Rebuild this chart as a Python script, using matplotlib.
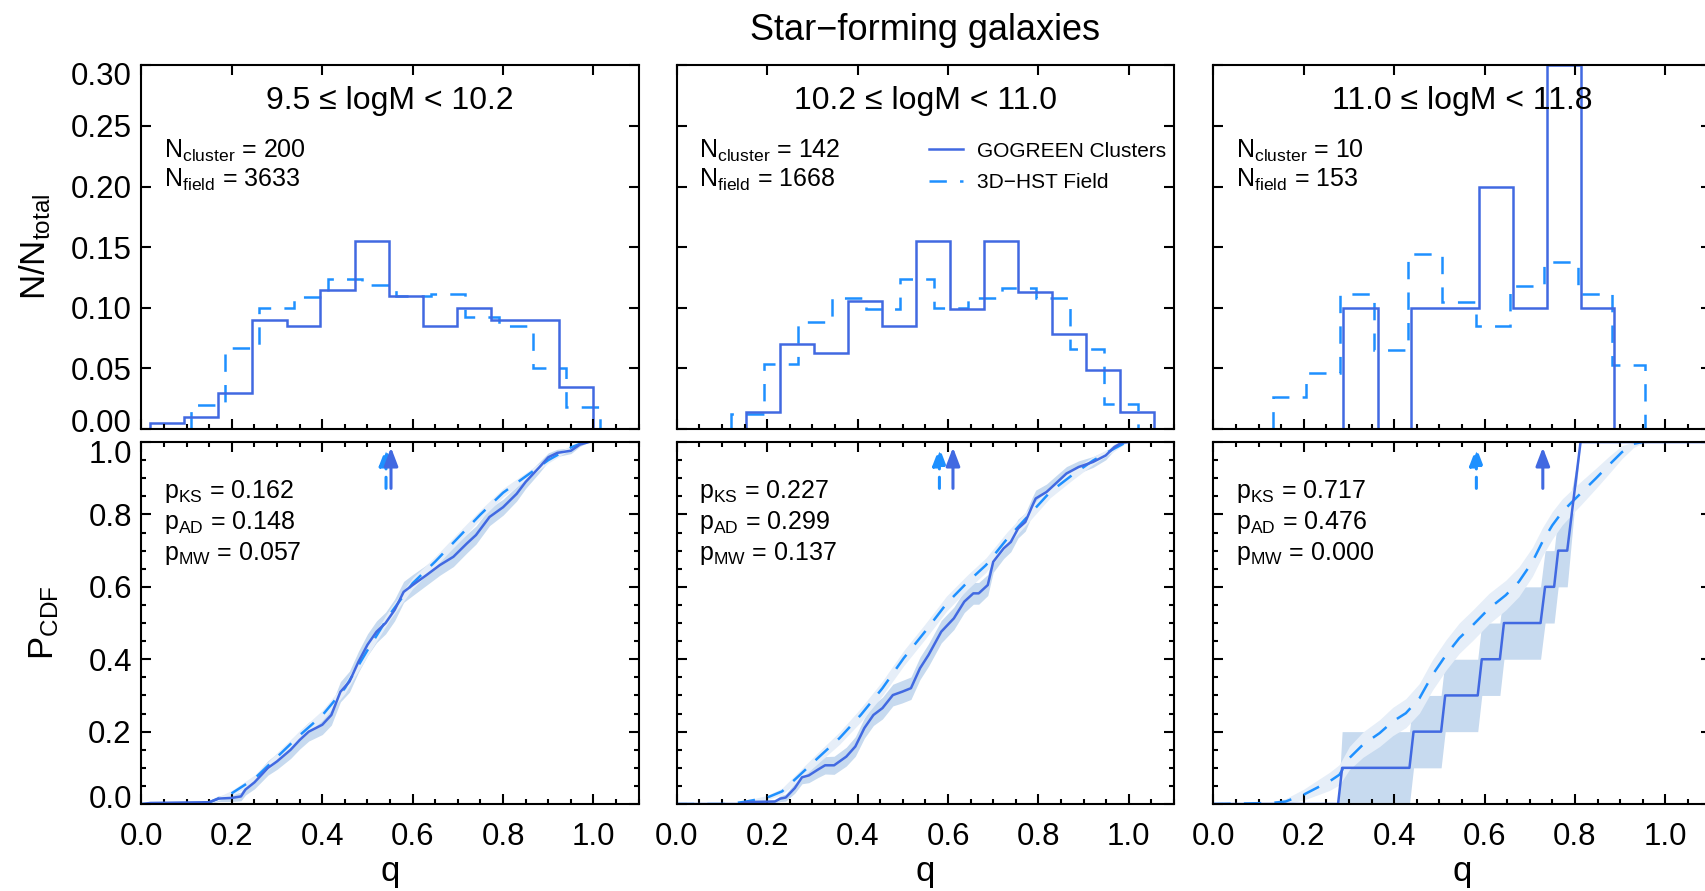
import matplotlib
matplotlib.use("Agg")
import matplotlib.pyplot as plt
import matplotlib.transforms as mtransforms
import numpy as np
from matplotlib.lines import Line2D
from matplotlib.ticker import MultipleLocator

plt.rcParams['font.family'] = ['Liberation Sans', 'DejaVu Sans']
plt.rcParams['mathtext.fontset'] = 'custom'
plt.rcParams['mathtext.rm'] = 'Liberation Sans'
plt.rcParams['mathtext.it'] = 'Liberation Sans:italic'
plt.rcParams['mathtext.bf'] = 'Liberation Sans:bold'
plt.rcParams['lines.scale_dashes'] = False

# ---------------- data ----------------
mass_bins = ["9.5 \u2264 logM < 10.2", "10.2 \u2264 logM < 11.0", "11.0 \u2264 logM < 11.8"]
n_cluster = [200, 142, 10]
n_field = [3633, 1668, 153]
p_ks = ["0.162", "0.227", "0.717"]
p_ad = ["0.148", "0.299", "0.476"]
p_mw = ["0.057", "0.137", "0.000"]
median_cluster = [0.552, 0.611, 0.729]
median_field = [0.541, 0.581, 0.582]

# histograms (bin edges in q, fraction per bin)
hist_cl_edges_1 = [0.018, 0.094, 0.170, 0.245, 0.321, 0.396, 0.472, 0.547, 0.622, 0.698, 0.773, 0.849, 0.924, 1.000]
hist_cl_vals_1 = [0.005, 0.010, 0.030, 0.090, 0.085, 0.115, 0.155, 0.110, 0.085, 0.100, 0.090, 0.090, 0.035]
hist_fd_edges_1 = [0.110, 0.184, 0.260, 0.337, 0.412, 0.488, 0.563, 0.640, 0.715, 0.790, 0.866, 0.940, 1.014]
hist_fd_vals_1 = [0.020, 0.067, 0.100, 0.109, 0.124, 0.119, 0.110, 0.111, 0.092, 0.085, 0.050, 0.018]

hist_cl_edges_2 = [0.153, 0.228, 0.304, 0.379, 0.454, 0.529, 0.604, 0.680, 0.755, 0.830, 0.905, 0.981, 1.056]
hist_cl_vals_2 = [0.014, 0.070, 0.063, 0.106, 0.085, 0.155, 0.099, 0.155, 0.113, 0.078, 0.049, 0.014]
hist_fd_edges_2 = [0.119, 0.194, 0.269, 0.344, 0.419, 0.494, 0.569, 0.644, 0.719, 0.795, 0.870, 0.945, 1.020]
hist_fd_vals_2 = [0.012, 0.054, 0.088, 0.108, 0.099, 0.124, 0.100, 0.108, 0.116, 0.108, 0.066, 0.021]

hist_cl_edges_3 = [0.288, 0.364, 0.4375, 0.513, 0.588, 0.663, 0.7375, 0.8125, 0.8875]
hist_cl_vals_3 = [0.10, 0.00, 0.10, 0.10, 0.20, 0.10, 0.30, 0.10]
hist_fd_edges_3 = [0.131, 0.206, 0.281, 0.356, 0.431, 0.506, 0.581, 0.656, 0.731, 0.806, 0.881, 0.956]
hist_fd_vals_3 = [0.026, 0.046, 0.111, 0.065, 0.144, 0.105, 0.085, 0.118, 0.138, 0.111, 0.053]

# cumulative distributions
cdf_cl_q_1 = [0.0, 0.02, 0.15, 0.17, 0.20, 0.22, 0.23, 0.25, 0.28, 0.30, 0.33, 0.35, 0.37, 0.40, 0.42,
              0.44, 0.46, 0.48, 0.50, 0.52, 0.54, 0.56, 0.58, 0.60, 0.63, 0.66, 0.69, 0.72, 0.74, 0.77,
              0.80, 0.83, 0.85, 0.88, 0.90, 0.92, 0.95, 0.97, 0.99]
cdf_cl_p_1 = [0.0, 0.003, 0.005, 0.015, 0.017, 0.021, 0.04, 0.06, 0.10, 0.118, 0.15, 0.177, 0.20, 0.219, 0.246,
              0.31, 0.338, 0.393, 0.44, 0.476, 0.50, 0.536, 0.586, 0.605, 0.632, 0.66, 0.683, 0.72, 0.743, 0.793,
              0.82, 0.857, 0.89, 0.93, 0.958, 0.97, 0.976, 0.993, 1.0]
cdf_cl_err_1 = [0.0, 0.003, 0.004, 0.008, 0.010, 0.012, 0.015, 0.018, 0.020, 0.022, 0.024, 0.025, 0.026, 0.027, 0.028,
                0.028, 0.029, 0.029, 0.030, 0.030, 0.030, 0.030, 0.029, 0.029, 0.028, 0.028, 0.027, 0.026, 0.025, 0.024,
                0.022, 0.020, 0.018, 0.015, 0.012, 0.010, 0.008, 0.005, 0.0]
cdf_fd_q_1 = [0.0, 0.10, 0.15, 0.20, 0.25, 0.30, 0.35, 0.40, 0.45, 0.50, 0.55, 0.60, 0.65, 0.70, 0.75,
              0.80, 0.85, 0.90, 0.95, 0.98]
cdf_fd_p_1 = [0.0, 0.0, 0.005, 0.03, 0.07, 0.13, 0.19, 0.245, 0.32, 0.425, 0.525, 0.61, 0.67, 0.735, 0.80,
              0.86, 0.905, 0.95, 0.985, 1.0]
cdf_fd_err_1 = [0.0, 0.0, 0.003, 0.008, 0.010, 0.012, 0.013, 0.014, 0.015, 0.015, 0.015, 0.015, 0.014, 0.014, 0.013,
                0.012, 0.010, 0.008, 0.005, 0.0]

cdf_cl_q_2 = [0.0, 0.138, 0.154, 0.217, 0.229, 0.241, 0.261, 0.277, 0.292, 0.312, 0.328, 0.348, 0.375, 0.395, 0.415,
              0.435, 0.455, 0.478, 0.498, 0.518, 0.538, 0.557, 0.585, 0.613, 0.636, 0.656, 0.668, 0.688, 0.70, 0.723,
              0.739, 0.755, 0.771, 0.787, 0.794, 0.818, 0.838, 0.862, 0.889, 0.921, 0.949, 0.968, 0.984, 1.0]
cdf_cl_p_2 = [0.0, 0.0, 0.0055, 0.007, 0.015, 0.018, 0.044, 0.074, 0.079, 0.095, 0.107, 0.107, 0.131, 0.159, 0.21,
              0.246, 0.265, 0.301, 0.31, 0.32, 0.375, 0.412, 0.476, 0.513, 0.559, 0.582, 0.582, 0.605, 0.669, 0.706,
              0.724, 0.761, 0.779, 0.825, 0.844, 0.862, 0.885, 0.913, 0.931, 0.945, 0.963, 0.986, 0.998, 1.0]
cdf_cl_err_2 = [0.0, 0.0, 0.003, 0.004, 0.008, 0.010, 0.014, 0.018, 0.020, 0.022, 0.024, 0.025, 0.026, 0.027, 0.028,
                0.029, 0.030, 0.030, 0.031, 0.031, 0.031, 0.031, 0.031, 0.031, 0.030, 0.030, 0.030, 0.029, 0.029, 0.028,
                0.027, 0.026, 0.025, 0.024, 0.023, 0.022, 0.021, 0.019, 0.017, 0.015, 0.012, 0.008, 0.004, 0.0]
cdf_fd_q_2 = [0.0, 0.115, 0.154, 0.20, 0.233, 0.265, 0.312, 0.36, 0.407, 0.455, 0.502, 0.549, 0.597, 0.644, 0.684,
              0.731, 0.779, 0.826, 0.874, 0.921, 0.968, 0.992]
cdf_fd_p_2 = [0.0, 0.0, 0.007, 0.018, 0.035, 0.072, 0.127, 0.182, 0.246, 0.32, 0.403, 0.476, 0.554, 0.614, 0.66,
              0.733, 0.798, 0.862, 0.908, 0.949, 0.982, 0.998]
cdf_fd_err_2 = [0.0, 0.0, 0.003, 0.006, 0.009, 0.012, 0.015, 0.017, 0.019, 0.020, 0.021, 0.021, 0.021, 0.020, 0.020,
                0.019, 0.018, 0.016, 0.014, 0.011, 0.007, 0.003]

cdf_cl_q_3 = [0.0, 0.276, 0.285, 0.434, 0.443, 0.504, 0.513, 0.585, 0.594, 0.634, 0.643, 0.724, 0.734, 0.754, 0.763,
              0.783, 0.8125, 1.1]
cdf_cl_p_3 = [0.0, 0.0, 0.1, 0.1, 0.2, 0.2, 0.3, 0.3, 0.4, 0.4, 0.5, 0.5, 0.6, 0.6, 0.7, 0.7, 1.0, 1.0]
cdf_cl_lo_3 = [0.0, 0.0, 0.0, 0.0, 0.1, 0.1, 0.2, 0.2, 0.3, 0.3, 0.4, 0.4, 0.5, 0.5, 0.6, 0.6, 1.0, 1.0]
cdf_cl_hi_3 = [0.0, 0.0, 0.2, 0.2, 0.3, 0.3, 0.4, 0.4, 0.5, 0.5, 0.6, 0.6, 0.7, 0.7, 0.8, 0.8, 1.0, 1.0]
cdf_fd_q_3 = [0.0, 0.13, 0.16, 0.20, 0.228, 0.257, 0.279, 0.301, 0.331, 0.368, 0.397, 0.426, 0.456, 0.485, 0.515,
              0.544, 0.574, 0.61, 0.647, 0.676, 0.706, 0.728, 0.75, 0.772, 0.794, 0.816, 0.846, 0.875, 0.904, 0.93,
              0.949]
cdf_fd_p_3 = [0.0, 0.003, 0.007, 0.026, 0.044, 0.0625, 0.081, 0.127, 0.164, 0.196, 0.228, 0.251, 0.292, 0.357, 0.412,
              0.458, 0.494, 0.54, 0.577, 0.614, 0.669, 0.724, 0.77, 0.807, 0.835, 0.862, 0.899, 0.936, 0.972, 0.995,
              1.0]
cdf_fd_err_3 = [0.0, 0.004, 0.008, 0.015, 0.020, 0.025, 0.028, 0.032, 0.035, 0.037, 0.039, 0.040, 0.041, 0.042, 0.042,
                0.042, 0.042, 0.042, 0.041, 0.041, 0.040, 0.039, 0.038, 0.036, 0.034, 0.032, 0.028, 0.024, 0.018, 0.010,
                0.004]

# ---------------- style ----------------
c_cluster = "#4169E1"
c_field = "#1E90FF"
c_band_cl = "#c7daef"
c_band_fd = "#e6eef8"
dash = (0, (12.5, 9.5))
lw_line = 1.8

fig = plt.figure(figsize=(17.06, 8.91), dpi=100)
lefts = [0.08294, 0.39672, 0.71120]
width = 0.29144

hist_sets = [
    (hist_cl_edges_1, hist_cl_vals_1, hist_fd_edges_1, hist_fd_vals_1),
    (hist_cl_edges_2, hist_cl_vals_2, hist_fd_edges_2, hist_fd_vals_2),
    (hist_cl_edges_3, hist_cl_vals_3, hist_fd_edges_3, hist_fd_vals_3),
]


def band(p, err):
    p = np.asarray(p)
    err = np.asarray(err)
    return np.clip(p - err, 0, 1), np.clip(p + err, 0, 1)


cl_lo1, cl_hi1 = band(cdf_cl_p_1, cdf_cl_err_1)
cl_lo2, cl_hi2 = band(cdf_cl_p_2, cdf_cl_err_2)
cdf_sets = [
    (cdf_cl_q_1, cdf_cl_p_1, cl_lo1, cl_hi1, cdf_fd_q_1, cdf_fd_p_1, cdf_fd_err_1),
    (cdf_cl_q_2, cdf_cl_p_2, cl_lo2, cl_hi2, cdf_fd_q_2, cdf_fd_p_2, cdf_fd_err_2),
    (cdf_cl_q_3, cdf_cl_p_3, cdf_cl_lo_3, cdf_cl_hi_3, cdf_fd_q_3, cdf_fd_p_3, cdf_fd_err_3),
]


def nudge(label, dy_px):
    off = mtransforms.ScaledTranslation(0, dy_px / fig.dpi, fig.dpi_scale_trans)
    label.set_transform(label.get_transform() + off)


tick_fs = 22.5
note_fs = 18

for i in range(3):
    ax_h = fig.add_axes([lefts[i], 0.5185, width, 0.4082])
    ax_c = fig.add_axes([lefts[i], 0.0976, width, 0.4063])

    # ---- histogram panel ----
    ce, cv, fe, fv = hist_sets[i]
    ax_h.stairs(fv, fe, color=c_field, lw=lw_line, linestyle=dash)
    ax_h.stairs(cv, ce, color=c_cluster, lw=lw_line)
    ax_h.set_xlim(0, 1.1)
    ax_h.set_ylim(0, 0.30)
    ax_h.set_xticks(np.arange(0, 1.01, 0.2))
    ax_h.xaxis.set_minor_locator(MultipleLocator(0.05))
    ax_h.set_yticks(np.arange(0, 0.301, 0.05))
    ax_h.tick_params(which='major', direction='in', length=7.5, width=1.5, top=True, right=True,
                     labelsize=tick_fs, pad=7, labelbottom=False)
    ax_h.tick_params(axis='x', which='minor', direction='in', length=3.8, width=1.5, top=False, bottom=True)
    ax_h.text(0.5, 0.879, mass_bins[i], transform=ax_h.transAxes, ha='center', va='baseline', fontsize=23)
    ax_h.text(0.045, 0.747, r"N$_{\rm cluster}$ = %d" % n_cluster[i], transform=ax_h.transAxes,
              ha='left', va='baseline', fontsize=note_fs)
    ax_h.text(0.045, 0.665, r"N$_{\rm field}$ = %d" % n_field[i], transform=ax_h.transAxes,
              ha='left', va='baseline', fontsize=note_fs)

    # ---- cumulative panel ----
    cq, cp, clo, chi, fq, fp, ferr = cdf_sets[i]
    flo, fhi = band(fp, ferr)
    ax_c.fill_between(cq, clo, chi, color=c_band_cl, lw=0)
    ax_c.fill_between(fq, flo, fhi, color=c_band_fd, lw=0)
    ax_c.plot(fq, fp, color=c_field, lw=lw_line, linestyle=dash)
    ax_c.plot(cq, cp, color=c_cluster, lw=lw_line)

    ax_c.annotate("", xy=(median_field[i], 0.985), xytext=(median_field[i], 0.872),
                  arrowprops=dict(arrowstyle="-|>,head_length=1.1,head_width=0.42", color=c_field,
                                  lw=2.2, linestyle=(0, (8, 6)), shrinkA=0, shrinkB=0))
    ax_c.annotate("", xy=(median_cluster[i], 0.985), xytext=(median_cluster[i], 0.872),
                  arrowprops=dict(arrowstyle="-|>,head_length=1.1,head_width=0.42", color=c_cluster,
                                  lw=2.2, shrinkA=0, shrinkB=0))

    ax_c.set_xlim(0, 1.1)
    ax_c.set_ylim(0, 1.0)
    ax_c.set_xticks(np.arange(0, 1.01, 0.2))
    ax_c.set_xticklabels(["0.0", "0.2", "0.4", "0.6", "0.8", "1.0"])
    ax_c.xaxis.set_minor_locator(MultipleLocator(0.05))
    ax_c.set_yticks(np.arange(0, 1.01, 0.2))
    ax_c.set_yticklabels(["0.0", "0.2", "0.4", "0.6", "0.8", "1.0"])
    ax_c.yaxis.set_minor_locator(MultipleLocator(0.05))
    ax_c.tick_params(which='major', direction='in', length=7.5, width=1.5, top=True, right=True,
                     labelsize=tick_fs)
    ax_c.tick_params(axis='x', which='major', pad=13)
    ax_c.tick_params(axis='y', which='major', pad=7)
    ax_c.tick_params(which='minor', direction='in', length=3.8, width=1.5, top=True, right=True)
    ax_c.set_xlabel("q", fontsize=25, va='center')
    ax_c.xaxis.set_label_coords(0.5, -0.185)

    ax_c.text(0.045, 0.8445, r"p$_{\rm KS}$ = " + p_ks[i], transform=ax_c.transAxes,
              ha='left', va='baseline', fontsize=note_fs)
    ax_c.text(0.045, 0.759, r"p$_{\rm AD}$ = " + p_ad[i], transform=ax_c.transAxes,
              ha='left', va='baseline', fontsize=note_fs)
    ax_c.text(0.045, 0.674, r"p$_{\rm MW}$ = " + p_mw[i], transform=ax_c.transAxes,
              ha='left', va='baseline', fontsize=note_fs)

    for ax in (ax_h, ax_c):
        for s in ax.spines.values():
            s.set_linewidth(1.5)

    if i == 0:
        ax_h.set_ylabel(r"N/N$_{\rm total}$", fontsize=25, va='center')
        ax_h.yaxis.set_label_coords(-0.213, 0.5)
        ax_c.set_ylabel(r"P$_{\rm CDF}$", fontsize=25, va='center')
        ax_c.yaxis.set_label_coords(-0.195, 0.5)
        hl = ax_h.yaxis.get_major_ticks()
        nudge(hl[0].label1, 9)
        nudge(hl[-1].label1, -8)
        cl = ax_c.yaxis.get_major_ticks()
        nudge(cl[0].label1, 8)
        nudge(cl[-1].label1, -9)
    else:
        ax_h.tick_params(labelleft=False)
        ax_c.tick_params(labelleft=False)

    if i == 1:
        handles = [Line2D([], [], color=c_cluster, lw=lw_line),
                   Line2D([], [], color=c_field, lw=lw_line, linestyle=dash)]
        ax_h.legend(handles, ["GOGREEN Clusters", "3D\u2212HST Field"], loc='upper left',
                    bbox_to_anchor=(0.507, 0.79), frameon=False, fontsize=15, borderpad=0,
                    borderaxespad=0, handlelength=1.65, handletextpad=0.65, labelspacing=0.6)

fig.text(0.5424, 0.966, "Star\u2212forming galaxies", ha='center', va='center', fontsize=26)

fig.savefig("out.png", dpi=100)
